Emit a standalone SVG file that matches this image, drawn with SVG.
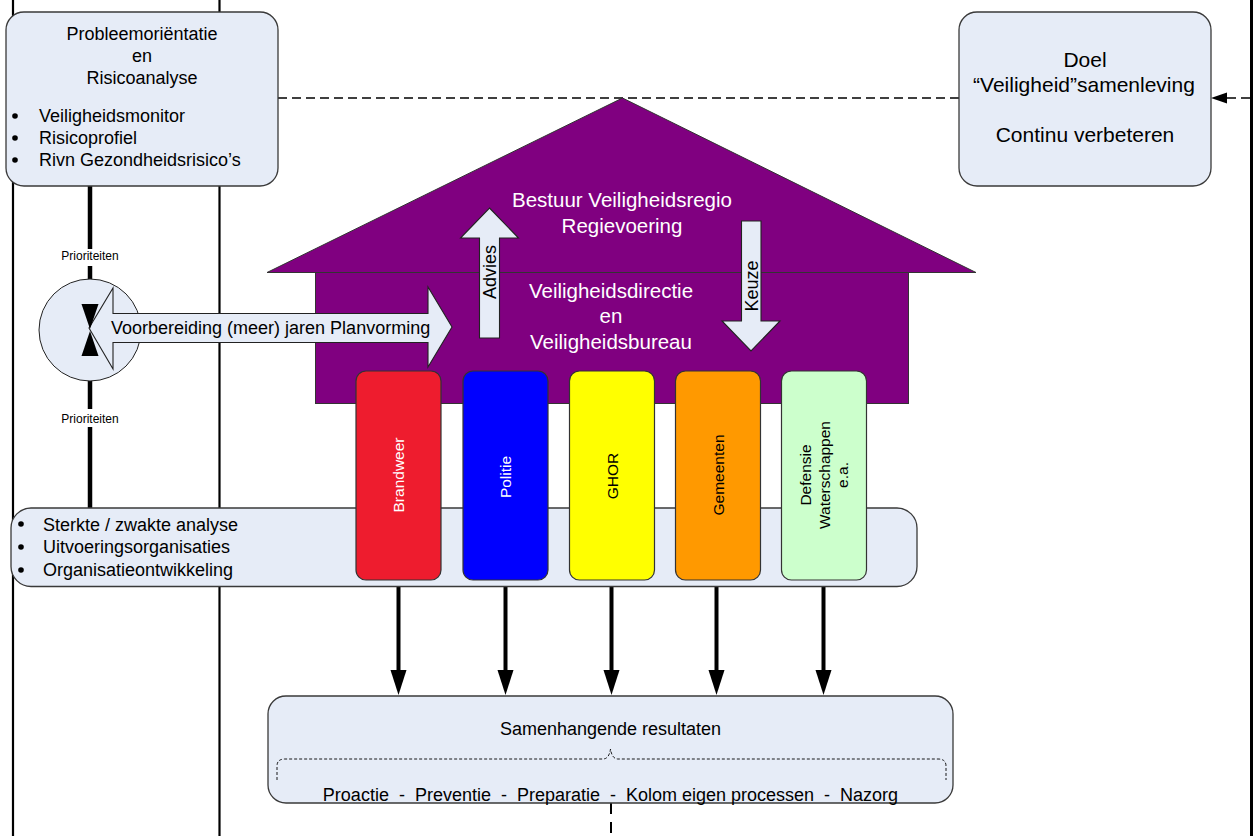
<svg xmlns="http://www.w3.org/2000/svg" width="1253" height="836" viewBox="0 0 1253 836">
<style>
  text { font-family: "Liberation Sans", Arial, sans-serif; fill: #000; }
  .box { fill: #E6ECF7; stroke: #3a3a3a; stroke-width: 1.3; }
  .vline { stroke: #000; stroke-width: 2.2; fill: none; }
  .f18 { font-size: 18px; }
  .f20 { font-size: 20.5px; }
  .f21 { font-size: 21px; }
  .f15 { font-size: 15.5px; }
  .mid { text-anchor: middle; }
  .white { fill: #fff; }
  .thick { stroke: #000; stroke-width: 4.5; fill: none; }
  .dash { stroke: #000; stroke-width: 1.5; fill: none; stroke-dasharray: 9 5; }
  .col { stroke: #333; stroke-width: 1.2; }
  .pale { fill: #E6ECF7; stroke: #222; stroke-width: 1.1; }
</style>

<rect width="1253" height="836" fill="#fff"/>

<!-- background swimlane lines -->
<g id="lanes">
  <line class="vline" x1="13" y1="0" x2="13" y2="836"/>
  <line class="vline" x1="219.5" y1="0" x2="219.5" y2="836"/>
  <line x1="1251.5" y1="0" x2="1251.5" y2="836" stroke="#000" stroke-width="3"/>
</g>

<g id="connectors">
  <!-- top dashed line -->
  <line class="dash" x1="278" y1="98" x2="959" y2="98"/>
  <line class="dash" x1="1250" y1="98" x2="1226" y2="98"/>
  <polygon points="1211,98 1227,92.5 1227,103.5" fill="#000"/>
  <!-- Prioriteiten arrows -->
  <line class="thick" x1="90" y1="186" x2="90" y2="249"/>
  <line class="thick" x1="90" y1="266" x2="90" y2="306"/>
  <line class="thick" x1="90" y1="508" x2="90" y2="427"/>
  <line class="thick" x1="90" y1="409" x2="90" y2="356"/>
  <!-- column down arrows -->
  <g fill="#000">
    <line class="thick" x1="398.5" y1="587" x2="398.5" y2="672" style="stroke-width:4"/>
    <polygon points="390.5,670 406.5,670 398.5,695"/>
    <line class="thick" x1="505.5" y1="587" x2="505.5" y2="672" style="stroke-width:4"/>
    <polygon points="497.5,670 513.5,670 505.5,695"/>
    <line class="thick" x1="611.5" y1="587" x2="611.5" y2="672" style="stroke-width:4"/>
    <polygon points="603.5,670 619.5,670 611.5,695"/>
    <line class="thick" x1="716.5" y1="587" x2="716.5" y2="672" style="stroke-width:4"/>
    <polygon points="708.5,670 724.5,670 716.5,695"/>
    <line class="thick" x1="823.5" y1="587" x2="823.5" y2="672" style="stroke-width:4"/>
    <polygon points="815.5,670 831.5,670 823.5,695"/>
  </g>
  <!-- bottom dashed line -->
  <line x1="611" y1="803" x2="611" y2="836" stroke="#000" stroke-width="2" stroke-dasharray="11 8"/>
</g>

<g id="probleem">
  <rect class="box" x="6" y="12" width="272" height="174" rx="18"/>
  <text class="f18 mid" x="142" y="40">Probleemoriëntatie</text>
  <text class="f18 mid" x="142" y="62">en</text>
  <text class="f18 mid" x="142" y="84">Risicoanalyse</text>
  <circle cx="15" cy="116" r="2.8"/>
  <circle cx="15" cy="138" r="2.8"/>
  <circle cx="15" cy="160" r="2.8"/>
  <text class="f18" x="39" y="122">Veiligheidsmonitor</text>
  <text class="f18" x="39" y="144">Risicoprofiel</text>
  <text class="f18" x="39" y="166">Rivn Gezondheidsrisico’s</text>
</g>

<g id="doel">
  <rect class="box" x="959" y="12" width="252" height="174" rx="18"/>
  <text class="f21 mid" x="1085" y="67">Doel</text>
  <text class="f21 mid" x="1084" y="92">“Veiligheid”samenleving</text>
  <text class="f21 mid" x="1085" y="142">Continu verbeteren</text>
</g>

<g id="huis">
  <polygon points="622.5,98 976,272.5 267,272.5" fill="#800080" stroke="#333" stroke-width="1"/>
  <rect x="315.5" y="272.5" width="593" height="131" fill="#800080" stroke="#333" stroke-width="1"/>
  <text class="f20 mid white" x="622" y="207">Bestuur Veiligheidsregio</text>
  <text class="f20 mid white" x="622" y="233">Regievoering</text>
  <text class="f20 mid white" x="611" y="298">Veiligheidsdirectie</text>
  <text class="f20 mid white" x="611" y="323">en</text>
  <text class="f20 mid white" x="611" y="349">Veiligheidsbureau</text>
</g>

<g id="advies">
  <polygon class="pale" points="489.5,208 518.5,238 499.5,238 499.5,338 479.5,338 479.5,238 460.5,238"/>
  <text class="f18 mid" transform="translate(489.5,272) rotate(-90)" y="6.5">Advies</text>
</g>

<g id="keuze">
  <polygon class="pale" points="741.5,221 761,221 761,321 780,321 751,351 722,321 741.5,321"/>
  <text class="f18 mid" transform="translate(751,286) rotate(-90)" y="6.5">Keuze</text>
</g>

<g id="afstemming">
  <circle cx="90" cy="330" r="51" fill="#E6ECF7" stroke="#222" stroke-width="1"/>
</g>

<g id="planvorming">
  <polygon class="pale" points="89,328 113,288 113,313.5 428,313.5 428,287 452,327 428,367 428,342.5 113,342.5 113,369"/>
  <text class="f18" x="111" y="333.5">Voorbereiding (meer) jaren Planvorming</text>
</g>

<g id="prio-heads" fill="#000">
  <polygon points="81.5,304 98.5,304 90,329"/>
  <polygon points="81.5,356 98.5,356 90,331"/>
  <text class="mid" x="90" y="260" style="font-size:12px">Prioriteiten</text>
  <text class="mid" x="90" y="423" style="font-size:12px">Prioriteiten</text>
</g>

<g id="uitvoering">
  <rect class="box" x="11" y="508" width="906" height="78.5" rx="20"/>
  <circle cx="21" cy="524" r="2.8"/>
  <circle cx="21" cy="547" r="2.8"/>
  <circle cx="21" cy="570" r="2.8"/>
  <text class="f18" x="43" y="531">Sterkte / zwakte analyse</text>
  <text class="f18" x="43" y="553">Uitvoeringsorganisaties</text>
  <text class="f18" x="43" y="576">Organisatieontwikkeling</text>
</g>

<g id="brandweer">
  <rect class="col" x="356" y="371" width="85" height="209" rx="10" fill="#EE1C2E"/>
  <text class="f15 mid white" transform="translate(398.5,475) rotate(-90)" y="5.5">Brandweer</text>
</g>
<g id="politie">
  <rect class="col" x="463" y="371" width="85" height="209" rx="10" fill="#0000FF"/>
  <text class="f15 mid white" transform="translate(505.5,477) rotate(-90)" y="5.5">Politie</text>
</g>
<g id="ghor">
  <rect class="col" x="569.5" y="371" width="85" height="209" rx="10" fill="#FFFF00"/>
  <text class="f15 mid" transform="translate(612,476) rotate(-90)" y="5.5">GHOR</text>
</g>
<g id="gemeenten">
  <rect class="col" x="675.5" y="371" width="85" height="209" rx="10" fill="#FF9900"/>
  <text class="f15 mid" transform="translate(718,475) rotate(-90)" y="5.5">Gemeenten</text>
</g>
<g id="defensie">
  <rect class="col" x="781.5" y="371" width="85" height="209" rx="10" fill="#CCFFCC"/>
  <g transform="translate(824,475) rotate(-90)">
    <text class="f15 mid" x="0" y="-13">Defensie</text>
    <text class="f15 mid" x="0" y="5.5">Waterschappen</text>
    <text class="f15 mid" x="0" y="24">e.a.</text>
  </g>
</g>

<g id="resultaten">
  <rect class="box" x="268" y="696" width="685" height="107" rx="18"/>
  <text class="f18 mid" x="610.5" y="735">Samenhangende resultaten</text>
  <path d="M277,780 L277,766 Q277,759 285,759 L603,759 Q609,759 610.5,749 Q612,759 618,759 L938,759 Q946,759 946,766 L946,780" fill="none" stroke="#000" stroke-width="0.9" stroke-dasharray="3 2"/>
  <text class="f18 mid" x="610.5" y="801">Proactie &#160;-&#160; Preventie &#160;-&#160; Preparatie &#160;-&#160; Kolom eigen processen &#160;-&#160; Nazorg</text>
</g>
</svg>
